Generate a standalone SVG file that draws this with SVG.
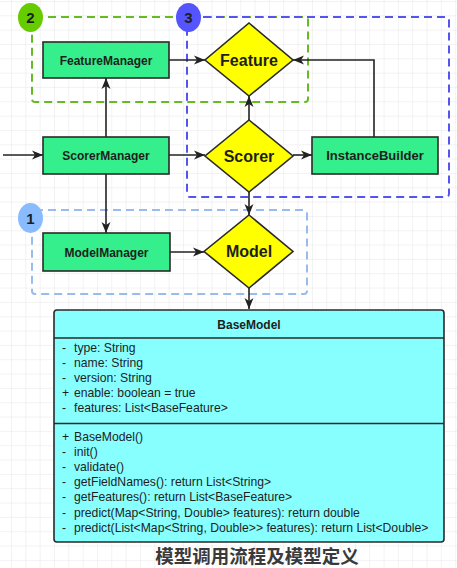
<svg xmlns="http://www.w3.org/2000/svg" width="457" height="568" viewBox="0 0 457 568">
<style>
.bg{fill:#ffffff}
.grp{fill:none;stroke-width:2;stroke-dasharray:8 5}
.rectnode{fill:#35ef8d;stroke:#2a2a2a;stroke-width:1.6}
.dia{fill:#ffff00;stroke:#2a2a2a;stroke-width:1.6}
.cls{fill:#88ffff;stroke:#2a2a2a;stroke-width:1.6}
.edge{fill:none;stroke:#222;stroke-width:1.6}
.lbl{font-family:"Liberation Sans",Arial,sans-serif;font-weight:bold;fill:#1e1e1e;text-anchor:middle}
.mem{font-family:"Liberation Sans",Arial,sans-serif;font-size:12.2px;fill:#1e1e1e}
.cap{font-family:"Noto Sans CJK SC",sans-serif;font-weight:bold;font-size:18.5px;fill:#3a3a3a;text-anchor:middle}
</style>
<defs>
<pattern id="grid" patternUnits="userSpaceOnUse" x="11" y="1" width="14.33" height="14.33">
<path d="M0,0 H14.33 M0,0 V14.33" fill="none" stroke="#e6e6e6" stroke-width="1"/>
</pattern>
<marker id="arr" markerUnits="userSpaceOnUse" markerWidth="12" markerHeight="10" refX="11" refY="5" orient="auto">
<path d="M0,0.5 L11,5 L0,9.5 L3,5 Z" fill="#222"/>
</marker>
</defs>
<rect class="bg" x="0" y="0" width="457" height="568"/>
<rect x="0" y="0" width="457" height="568" fill="url(#grid)"/>

<g id="groups">
<rect id="group2" class="grp" x="32" y="17" width="276" height="85" rx="3" stroke="#66bb22"/>
<rect id="group3" class="grp" x="187" y="17" width="262" height="180" rx="3" stroke="#5555ee"/>
<rect id="group1" class="grp" x="32" y="210" width="275" height="84" rx="3" stroke="#99bbee"/>
</g>

<g id="connectors">
<line class="edge" x1="3" y1="155" x2="43" y2="155" marker-end="url(#arr)"/>
<line class="edge" x1="106" y1="137" x2="106" y2="78" marker-end="url(#arr)"/>
<line class="edge" x1="106" y1="174" x2="106" y2="233" marker-end="url(#arr)"/>
<line class="edge" x1="169" y1="155" x2="205" y2="155" marker-end="url(#arr)"/>
<line class="edge" x1="169" y1="60" x2="205" y2="60" marker-end="url(#arr)"/>
<line class="edge" x1="249" y1="120" x2="249" y2="96" marker-end="url(#arr)"/>
<line class="edge" x1="293" y1="155" x2="312" y2="155" marker-end="url(#arr)"/>
<polyline class="edge" points="374,137 374,60 293,60" marker-end="url(#arr)"/>
<line class="edge" x1="249" y1="192" x2="249" y2="215" marker-end="url(#arr)"/>
<line class="edge" x1="170" y1="252" x2="204" y2="252" marker-end="url(#arr)"/>
<line class="edge" x1="249" y1="288" x2="249" y2="309" marker-end="url(#arr)"/>
</g>

<g id="FeatureManager">
<rect class="rectnode" x="43" y="42" width="126" height="36"/>
<text class="lbl" x="106" y="64.5" font-size="12">FeatureManager</text>
</g>
<g id="ScorerManager">
<rect class="rectnode" x="43" y="137" width="126" height="37"/>
<text class="lbl" x="106" y="160" font-size="12">ScorerManager</text>
</g>
<g id="ModelManager">
<rect class="rectnode" x="43" y="233" width="127" height="38"/>
<text class="lbl" x="106.5" y="256.5" font-size="12">ModelManager</text>
</g>
<g id="InstanceBuilder">
<rect class="rectnode" x="312" y="137" width="126" height="37"/>
<text class="lbl" x="375" y="160" font-size="13">InstanceBuilder</text>
</g>
<g id="Feature">
<polygon class="dia" points="249,23 293,60 249,96 205,60"/>
<text class="lbl" x="249" y="65.5" font-size="16">Feature</text>
</g>
<g id="Scorer">
<polygon class="dia" points="249,120 293,156 249,192 205,156"/>
<text class="lbl" x="249" y="161.5" font-size="16">Scorer</text>
</g>
<g id="Model">
<polygon class="dia" points="249,215 293,251.5 249,288 204,251.5"/>
<text class="lbl" x="249" y="257" font-size="16">Model</text>
</g>

<g id="BaseModel">
<rect class="cls" x="54" y="310" width="390" height="232" rx="3"/>
<line x1="54" y1="338" x2="444" y2="338" stroke="#2a2a2a" stroke-width="1.6"/>
<line x1="54" y1="423.5" x2="444" y2="423.5" stroke="#2a2a2a" stroke-width="1.6"/>
<text class="lbl" x="249" y="328.5" font-size="12">BaseModel</text>
<text class="mem" y="352"><tspan x="62">-</tspan><tspan x="74">type: String</tspan></text>
<text class="mem" y="367"><tspan x="62">-</tspan><tspan x="74">name: String</tspan></text>
<text class="mem" y="382"><tspan x="62">-</tspan><tspan x="74">version: String</tspan></text>
<text class="mem" y="397"><tspan x="62">+</tspan><tspan x="74">enable: boolean = true</tspan></text>
<text class="mem" y="412"><tspan x="62">-</tspan><tspan x="74">features: List&lt;BaseFeature&gt;</tspan></text>
<text class="mem" y="440.5"><tspan x="62">+</tspan><tspan x="74">BaseModel()</tspan></text>
<text class="mem" y="455.7"><tspan x="62">-</tspan><tspan x="74">init()</tspan></text>
<text class="mem" y="470.9"><tspan x="62">-</tspan><tspan x="74">validate()</tspan></text>
<text class="mem" y="486.1"><tspan x="62">-</tspan><tspan x="74">getFieldNames(): return List&lt;String&gt;</tspan></text>
<text class="mem" y="501.3"><tspan x="62">-</tspan><tspan x="74">getFeatures(): return List&lt;BaseFeature&gt;</tspan></text>
<text class="mem" y="516.5"><tspan x="62">-</tspan><tspan x="74">predict(Map&lt;String, Double&gt; features): return double</tspan></text>
<text class="mem" y="531.7"><tspan x="62">-</tspan><tspan x="74">predict(List&lt;Map&lt;String, Double&gt;&gt; features): return List&lt;Double&gt;</tspan></text>
</g>

<g id="badge2">
<ellipse cx="30.5" cy="17.5" rx="12.5" ry="14.5" fill="#66cc00"/>
<text class="lbl" x="30.5" y="23" font-size="15">2</text>
</g>
<g id="badge3">
<ellipse cx="188.5" cy="17.5" rx="12.5" ry="14.5" fill="#5555ff"/>
<text class="lbl" x="188.5" y="23" font-size="15" fill="#1a1a55">3</text>
</g>
<g id="badge1">
<ellipse cx="30.5" cy="218" rx="12.5" ry="15" fill="#88bbff"/>
<text class="lbl" x="30.5" y="223.5" font-size="15">1</text>
</g>

<text class="cap" x="257" y="563">模型调用流程及模型定义</text>
</svg>
